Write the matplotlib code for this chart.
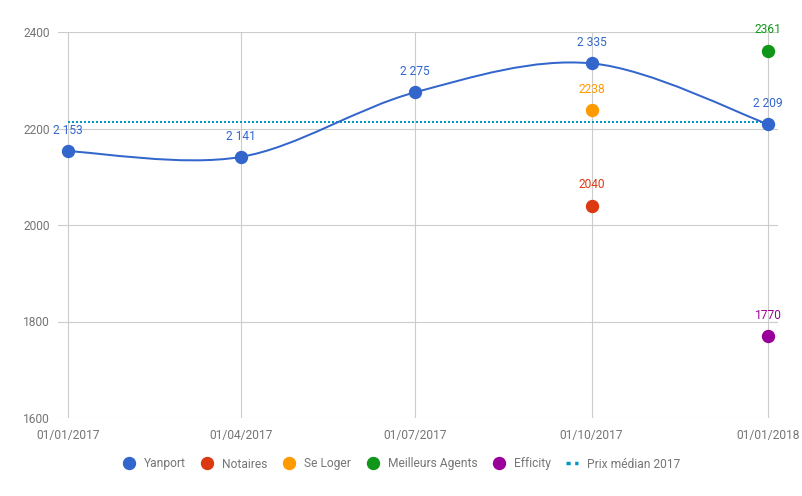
import datetime as dt

import matplotlib
matplotlib.use("Agg")          # headless
import matplotlib.pyplot as plt
import matplotlib.dates as mdates
from matplotlib.path import Path
from matplotlib.patches import PathPatch
from matplotlib.lines import Line2D

# --- data -------------------------------------------------------------
tick_dates = ["01/01/2017", "01/04/2017", "01/07/2017", "01/10/2017", "01/01/2018"]

yanport_dates = ["01/01/2017", "01/04/2017", "01/07/2017", "01/10/2017", "01/01/2018"]
yanport_values = [2153, 2141, 2275, 2335, 2209]

other_series = [
    # name, date, value, colour
    ("Notaires", "01/10/2017", 2040, "#dc3912"),
    ("Se Loger", "01/10/2017", 2238, "#ff9900"),
    ("Meilleurs Agents", "01/01/2018", 2361, "#109618"),
    ("Efficity", "01/01/2018", 1770, "#990099"),
]

median_label = "Prix médian 2017"
median_value = 2214
median_span = ["01/01/2017", "01/01/2018"]

y_ticks = [1600, 1800, 2000, 2200, 2400]

BLUE = "#3366cc"
MEDIAN = "#0099c6"
GRID = "#cccccc"
TEXT = "#757575"
FS = 12 * 0.72     # 12px at dpi 100

plt.rcParams["font.family"] = ["Roboto", "DejaVu Sans"]


def to_num(s):
    return mdates.date2num(dt.datetime.strptime(s, "%d/%m/%Y"))


def fmt_space(v):
    return f"{v:,}".replace(",", " ")


fig = plt.figure(figsize=(8.03, 4.96), dpi=100)
ax = fig.add_axes([58 / 803, (496 - 418) / 496, 720 / 803, 386 / 496])

xs = [to_num(d) for d in yanport_dates]
ys = yanport_values
ticks = [to_num(d) for d in tick_dates]
pad = (ticks[-1] - ticks[0]) * 10 / 700
ax.set_xlim(ticks[0] - pad, ticks[-1] + pad)
ax.set_ylim(y_ticks[0], y_ticks[-1])

# grid
ax.set_xticks(ticks)
ax.set_xticklabels(tick_dates)
ax.set_yticks(y_ticks)
ax.set_yticklabels([str(v) for v in y_ticks])
ax.grid(True, color=GRID, linewidth=0.8)
ax.set_axisbelow(True)
for sp in ax.spines.values():
    sp.set_visible(False)
ax.tick_params(axis="both", length=0, labelsize=FS, labelcolor=TEXT)
ax.tick_params(axis="x", pad=8)
ax.tick_params(axis="y", pad=6)

# median line
mx = [to_num(d) for d in median_span]
ax.plot(mx, [median_value, median_value], color=MEDIAN, linewidth=1.44,
        linestyle=(0, (1, 1)), zorder=2)

# smooth Yanport curve (cubic bezier, catmull-rom style)
k = 1 / 6
pts = list(zip(xs, ys))
n = len(pts)
verts = [pts[0]]
codes = [Path.MOVETO]
for i in range(n - 1):
    p0 = pts[max(i - 1, 0)]
    p1 = pts[i]
    p2 = pts[i + 1]
    p3 = pts[min(i + 2, n - 1)]
    c1 = (p1[0] + (p2[0] - p0[0]) * k, p1[1] + (p2[1] - p0[1]) * k)
    c2 = (p2[0] - (p3[0] - p1[0]) * k, p2[1] - (p3[1] - p1[1]) * k)
    verts += [c1, c2, p2]
    codes += [Path.CURVE4] * 3
ax.add_patch(PathPatch(Path(verts, codes), facecolor="none", edgecolor=BLUE,
                       linewidth=1.44, zorder=3))
ax.plot(xs, ys, "o", color=BLUE, markersize=8.6, zorder=4, clip_on=False)
for x, y in zip(xs, ys):
    ax.annotate(fmt_space(y), (x, y), xytext=(0, 15), textcoords="offset points",
                ha="center", va="center", color=BLUE, fontsize=FS,
                annotation_clip=False)

# other sources
for name, d, v, c in other_series:
    x = to_num(d)
    ax.plot([x], [v], "o", color=c, markersize=8.6, zorder=4, clip_on=False)
    ax.annotate(str(v), (x, v), xytext=(0, 15), textcoords="offset points",
                ha="center", va="center", color=c, fontsize=FS,
                annotation_clip=False)

# legend
handles = [Line2D([], [], marker="o", linestyle="none", color=BLUE, markersize=8.6)]
labels = ["Yanport"]
for name, d, v, c in other_series:
    handles.append(Line2D([], [], marker="o", linestyle="none", color=c, markersize=8.6))
    labels.append(name)
handles.append(Line2D([], [], color=MEDIAN, linewidth=2.5, linestyle=(0, (1.2, 1.3))))
labels.append(median_label)

leg = fig.legend(handles, labels, loc="center", bbox_to_anchor=(0.5, (496 - 464) / 496),
                 ncol=6, frameon=False, fontsize=FS, handlelength=1.0,
                 handletextpad=0.75, columnspacing=1.3, borderaxespad=0)
for t in leg.get_texts():
    t.set_color(TEXT)

fig.savefig("out.png", dpi=100)
plt.close(fig)
